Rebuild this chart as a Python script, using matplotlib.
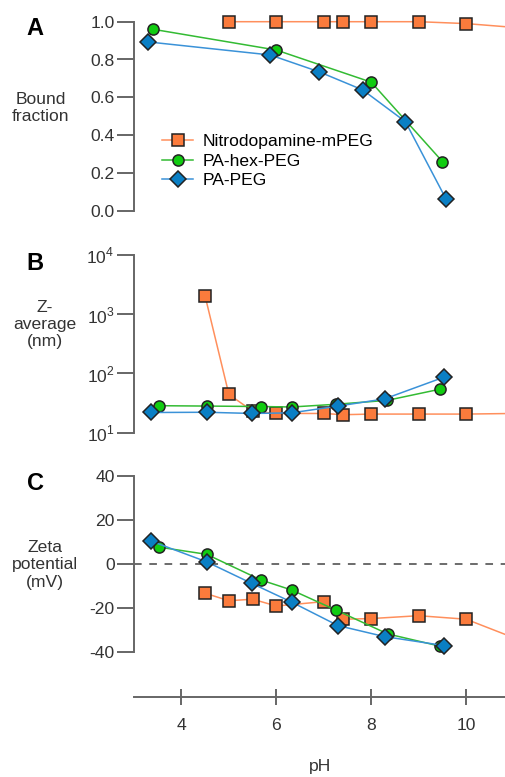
import matplotlib
matplotlib.use('Agg')
import matplotlib.pyplot as plt

plt.rcParams['font.family'] = ['Liberation Sans', 'DejaVu Sans']
plt.rcParams['mathtext.fontset'] = 'custom'
plt.rcParams['mathtext.rm'] = 'Liberation Sans'

# panel A: bound fraction
phA_nd = [5, 6, 7, 7.4, 8, 9, 10, 11]
bound_nd = [1.0, 1.0, 1.0, 1.0, 1.0, 1.0, 0.99, 0.97]
phA_hex = [3.4, 6.0, 8.0, 9.5]
bound_hex = [0.96, 0.85, 0.68, 0.26]
phA_pa = [3.3, 5.87, 6.9, 7.82, 8.72, 9.58]
bound_pa = [0.893, 0.824, 0.735, 0.639, 0.471, 0.06]

# panel B: Z-average (nm)
phB_nd = [4.5, 5, 5.5, 6, 7, 7.4, 8, 9, 10, 11]
zavg_nd = [2000, 44, 23, 21, 21, 20, 20.5, 20.5, 20.5, 21]
phB_hex = [3.52, 4.53, 5.68, 6.32, 7.25, 8.34, 9.45]
zavg_hex = [28.4, 28, 27.5, 27, 30, 35, 54]
phB_pa = [3.35, 4.53, 5.49, 6.32, 7.3, 8.28, 9.53]
zavg_pa = [21.8, 22, 21, 21.5, 28, 37, 86]

# panel C: zeta potential (mV)
phC_nd = [4.5, 5, 5.5, 6, 7, 7.4, 8, 9, 10, 11]
zeta_nd = [-13.3, -16.7, -16, -19.1, -17.1, -25.1, -24.8, -23.5, -25.1, -33.5]
phC_hex = [3.52, 4.53, 5.68, 6.32, 7.25, 8.35, 9.44]
zeta_hex = [7.7, 4.4, -7.3, -11.8, -20.9, -31.8, -37.3]
phC_pa = [3.35, 4.53, 5.48, 6.32, 7.3, 8.28, 9.54]
zeta_pa = [10.5, 1.0, -8.8, -17.3, -28, -33, -37.1]

names = ['Nitrodopamine-mPEG', 'PA-hex-PEG', 'PA-PEG']
fills = ['#fb7b3c', '#11cc11', '#0a7fc4']
lines = ['#ff8f5c', '#33bb33', '#3a92d8']
marks = ['s', 'o', 'D']

FS = 12.6
W, H = 506, 777
fig = plt.figure(figsize=(W / 100, H / 100), dpi=100)

def px_axes(top, bottom):
    return fig.add_axes([134 / W, 1 - bottom / H, (W - 134) / W, (bottom - top) / H])

axA = px_axes(12.25, 220.15)
axB = px_axes(249.1, 441.4)
axC = px_axes(467.2, 660.8)

def draw(ax, xs, ys):
    for i in range(3):
        ax.plot(xs[i], ys[i], marker=marks[i], ms=8, color=lines[i], lw=1.1,
                mfc=fills[i], mec='#222222', mew=1.1, label=names[i])

draw(axA, [phA_nd, phA_hex, phA_pa], [bound_nd, bound_hex, bound_pa])
draw(axB, [phB_nd, phB_hex, phB_pa], [zavg_nd, zavg_hex, zavg_pa])
draw(axC, [phC_nd, phC_hex, phC_pa], [zeta_nd, zeta_hex, zeta_pa])

axC.axhline(0, color='#444444', lw=1.1, ls=(0, (5, 5)), zorder=0)

grey = '#666666'
for ax in (axA, axB, axC):
    ax.set_xlim(3.0, 10.84)
    ax.patch.set_visible(False)
    for s in ('top', 'right'):
        ax.spines[s].set_visible(False)
    ax.spines['left'].set_color(grey)
    ax.spines['left'].set_linewidth(1.4)
    ax.tick_params(axis='y', direction='out', length=12, width=1.4, color=grey,
                   labelsize=FS, labelcolor='#333333', pad=2)

for ax in (axA, axB):
    ax.spines['bottom'].set_visible(False)
    ax.tick_params(axis='x', bottom=False, labelbottom=False)

axA.set_ylim(-0.05, 1.05)
axA.spines['left'].set_bounds(0, 1)
axA.set_yticks([0, 0.2, 0.4, 0.6, 0.8, 1.0])
axA.set_yticklabels(['0.0', '0.2', '0.4', '0.6', '0.8', '1.0'])

axB.set_yscale('log')
axB.set_ylim(10 ** 0.85, 10 ** 4.1)
axB.spines['left'].set_bounds(10, 10000)
axB.set_yticks([10, 100, 1000, 10000])
axB.set_yticklabels(['$10^1$', '$10^2$', '$10^3$', '$10^4$'])
axB.minorticks_off()

axC.set_ylim(-44, 44)
axC.spines['left'].set_bounds(-40, 40)
axC.set_yticks([-40, -20, 0, 20, 40])
axC.set_yticklabels(['-40', '-20', '0', '20', '40'])
axC.spines['bottom'].set_position(('outward', 26))
axC.spines['bottom'].set_color(grey)
axC.spines['bottom'].set_linewidth(1.4)
axC.set_xticks([4, 6, 8, 10])
axC.tick_params(axis='x', direction='inout', length=12, width=1.4, color=grey,
                labelsize=FS, labelcolor='#333333', pad=9)

axA.legend(loc='upper left', bbox_to_anchor=(0.075, 0.415), frameon=False,
           fontsize=FS, handlelength=1.8, handletextpad=0.5, labelspacing=0.25,
           borderaxespad=0, borderpad=0)

def ftext(x, y, s, **kw):
    fig.text(x / W, 1 - y / H, s, ha='center', va='center', **kw)

ftext(35, 28.5, 'A', fontsize=17, fontweight='bold')
ftext(35, 263.5, 'B', fontsize=17, fontweight='bold')
ftext(35, 483.5, 'C', fontsize=17, fontweight='bold')
lab = dict(fontsize=FS, color='#333333', linespacing=1.2)
ftext(41, 108, 'Bound\nfraction', **lab)
ftext(45, 324.5, 'Z-\naverage\n(nm)', **lab)
ftext(45, 565, 'Zeta\npotential\n(mV)', **lab)
ftext(320, 767, 'pH', **lab)

fig.savefig('out.png', dpi=100)
